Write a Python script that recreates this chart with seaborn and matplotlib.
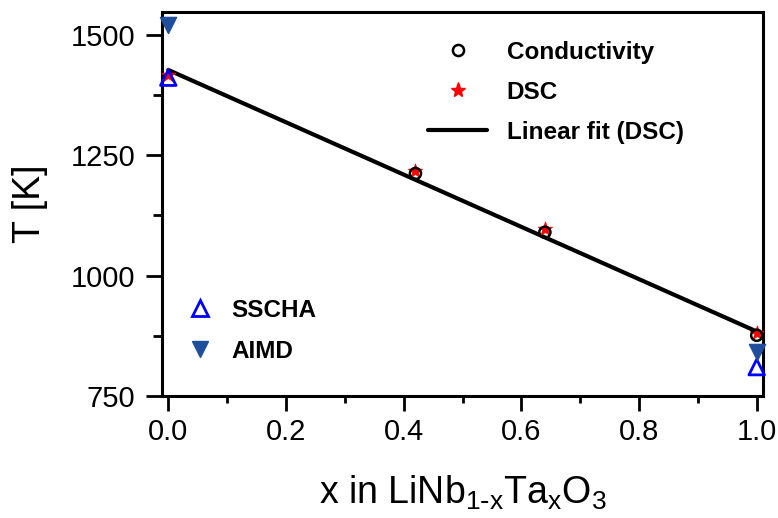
import numpy as np
import seaborn as sns
import matplotlib.pyplot as plt
from matplotlib.lines import Line2D

# values
x_cond = [0.42, 0.64, 1.0]
T_cond = [1212, 1090, 876]

x_dsc = [0.0, 0.42, 0.64, 1.0]
T_dsc = [1416, 1218, 1097, 880]

# end points of the linear fit to the DSC data
x_fit = [0.0, 1.0]
T_fit = [1427, 884]

x_sscha = [0.0, 1.0]
T_sscha = [1411, 810]

x_aimd = [0.0, 1.0]
T_aimd = [1520, 841]

x_ticks = [0.0, 0.2, 0.4, 0.6, 0.8, 1.0]
y_ticks = [750, 1000, 1250, 1500]

aimd_blue = "#1f4e9c"


def run():
    sns.set_style("ticks")
    plt.rcParams['font.family'] = ['Liberation Sans', 'DejaVu Sans']
    plt.rcParams['mathtext.default'] = 'regular'
    # seaborn greys the text, the reference is plain black
    for key in ['text.color', 'axes.labelcolor', 'xtick.color', 'ytick.color']:
        plt.rcParams[key] = 'black'

    W, H = 778, 518
    fig = plt.figure(figsize=(W / 100, H / 100), dpi=100)
    ax = fig.add_axes([162.3 / W, 1 - 396 / H, (762.7 - 162.3) / W, (396 - 11.7) / H])

    # fit line first, then the markers on top of it
    sns.lineplot(x=x_fit, y=T_fit, ax=ax, color="black", lw=3.0, legend=False, zorder=2)
    sns.scatterplot(x=x_dsc, y=T_dsc, ax=ax, marker="*", s=120, color="red",
                    edgecolor="red", linewidth=0.5, zorder=3, legend=False)
    sns.scatterplot(x=x_cond, y=T_cond, ax=ax, marker="o", s=64, facecolor="none",
                    edgecolor="black", linewidth=1.8, zorder=4, legend=False)
    sns.scatterplot(x=x_sscha, y=T_sscha, ax=ax, marker="^", s=125, facecolor="none",
                    edgecolor="blue", linewidth=2.0, zorder=5, legend=False, clip_on=False)
    sns.scatterplot(x=x_aimd, y=T_aimd, ax=ax, marker="v", s=135, color=aimd_blue,
                    edgecolor=aimd_blue, linewidth=1.0, zorder=6, legend=False, clip_on=False)

    ax.set_xlim(-0.0102, 1.0102)
    ax.set_ylim(750, 1548)

    ax.set_xticks(x_ticks)
    ax.set_xticklabels([f"{v:.1f}" for v in x_ticks])
    ax.set_xticks(np.array(x_ticks[:-1]) + 0.1, minor=True)
    ax.set_yticks(y_ticks)
    ax.set_yticklabels([str(v) for v in y_ticks])
    ax.set_yticks(np.array(y_ticks[:-1]) + 125, minor=True)

    for sp in ax.spines.values():
        sp.set_linewidth(2.2)
        sp.set_color("black")
    ax.tick_params(axis="both", which="both", direction="out", width=2.0, color="black",
                   labelsize=21, top=False, right=False)
    ax.tick_params(axis="x", which="major", length=11, pad=5)
    ax.tick_params(axis="x", which="minor", length=5)
    ax.tick_params(axis="y", which="major", length=11.5, pad=8)
    ax.tick_params(axis="y", which="minor", length=6.5)

    ax.set_xlabel(r"x in LiNb$_{1\text{-}x}$Ta$_{x}$O$_{3}$", fontsize=27, labelpad=20)
    ax.set_ylabel("T [K]", fontsize=27, labelpad=16)

    leg_font = {"weight": "bold", "size": 17.5}

    handles1 = [
        Line2D([], [], ls="none", marker="o", ms=8, mfc="none", mec="black", mew=1.8),
        Line2D([], [], ls="none", marker="*", ms=11, color="red"),
        Line2D([], [], color="black", lw=3.0),
    ]
    leg1 = ax.legend(handles1, ["Conductivity", "DSC", "Linear fit (DSC)"],
                     loc="upper left", bbox_to_anchor=(428 / W, 1 - 40.5 / H),
                     bbox_transform=fig.transFigure, frameon=False, prop=leg_font,
                     handlelength=2.43, handletextpad=0.8, labelspacing=0.7,
                     borderpad=0, borderaxespad=0)
    ax.add_artist(leg1)

    handles2 = [
        Line2D([], [], ls="none", marker="^", ms=11, mfc="none", mec="blue", mew=2.0),
        Line2D([], [], ls="none", marker="v", ms=11.5, color=aimd_blue),
    ]
    ax.legend(handles2, ["SSCHA", "AIMD"],
              loc="upper left", bbox_to_anchor=(188 / W, 1 - 299 / H),
              bbox_transform=fig.transFigure, frameon=False, prop=leg_font,
              handlelength=1.0, handletextpad=0.8, labelspacing=0.72,
              borderpad=0, borderaxespad=0)

    fig.savefig("out.png", dpi=100)


if __name__ == "__main__":
    run()
